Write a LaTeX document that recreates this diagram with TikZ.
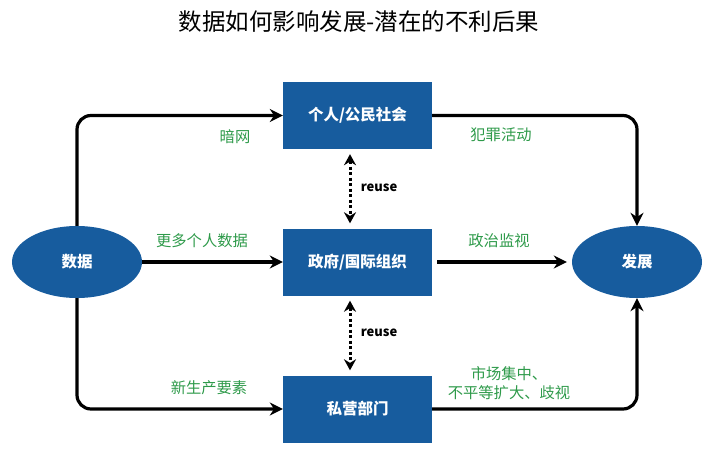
\documentclass[tikz,border=0pt]{standalone}
\usepackage{fontspec}
\setmainfont{Noto Sans CJK SC}
\usetikzlibrary{arrows.meta,shapes.geometric}
\definecolor{boxblue}{HTML}{175C9E}
\definecolor{lblgreen}{HTML}{2E9A4A}
\begin{document}
\begin{tikzpicture}[x=1pt,y=-1pt,
 box/.style={fill=boxblue,minimum width=149pt,minimum height=67pt,inner sep=0pt,text=white,font=\bfseries\fontsize{15.5}{18}\selectfont},
 oval/.style={ellipse,fill=boxblue,minimum width=130pt,minimum height=72pt,inner sep=0pt,text=white,font=\bfseries\fontsize{15.5}{18}\selectfont},
 flow/.style={line width=3.2pt,-{Stealth[length=13pt,width=13pt]},rounded corners=14pt},
 reusearrow/.style={line width=3pt,dash pattern=on 3pt off 2.5pt,{Stealth[length=11pt,width=12pt]}-{Stealth[length=11pt,width=12pt]}},
 lbl/.style={text=lblgreen,font=\fontsize{15.3}{18.5}\selectfont,align=center},
 rlbl/.style={font=\bfseries\fontsize{13}{15}\selectfont}
]
\useasboundingbox (0,0) rectangle (714,460);
\node[font=\fontsize{23.5}{26}\selectfont] (title) at (359,22) {数据如何影响发展-潜在的不利后果};
\node[box] (civ) at (357.5,115.5) {个人/公民社会};
\node[box] (gov) at (357.5,262) {政府/国际组织};
\node[box] (pri) at (357.5,409) {私营部门};
\node[oval] (data) at (77,262) {数据};
\node[oval] (dev) at (637,262) {发展};
\draw[flow] (data.north) |- (civ.west);
\draw[flow] (data.east) -- (gov.west);
\draw[flow] (data.south) |- (pri.west);
\draw[flow] (civ.east) -| (dev.north);
\draw[flow] ([xshift=5pt]gov.east) -- ([xshift=-5pt]dev.west);
\draw[flow] (pri.east) -| (dev.south);
\draw[reusearrow] ([xshift=-7.5pt,yshift=-5pt]civ.south) -- ([xshift=-7.5pt,yshift=5pt]gov.north);
\draw[reusearrow] ([xshift=-7.5pt,yshift=-5pt]gov.south) -- ([xshift=-7.5pt,yshift=5pt]pri.north);
\node[rlbl] (r1) at (379,188) {reuse};
\node[rlbl] (r2) at (379,333) {reuse};
\node[lbl] (l1) at (235,137) {暗网};
\node[lbl] (l2) at (202,241) {更多个人数据};
\node[lbl] (l3) at (209,388) {新生产要素};
\node[lbl] (l4) at (501,135) {犯罪活动};
\node[lbl] (l5) at (499,241) {政治监视};
\node[lbl] (l6) at (509,383) {市场集中、\\不平等扩大、歧视};
\end{tikzpicture}
\end{document}
